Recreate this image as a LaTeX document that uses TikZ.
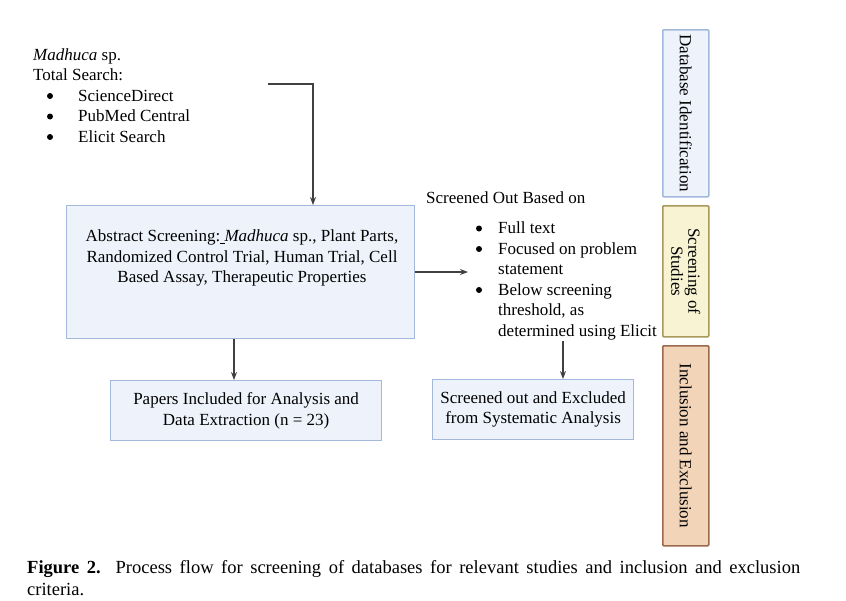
\documentclass[tikz,border=0pt]{standalone}
\usepackage{fontspec}
\setmainfont{Liberation Serif}
\usetikzlibrary{arrows.meta}
\definecolor{bluefill}{HTML}{EEF3FB}
\definecolor{blueedge}{HTML}{A3B9DC}
\definecolor{yelfill}{HTML}{F8F4D3}
\definecolor{yeledge}{HTML}{A8995C}
\definecolor{brnfill}{HTML}{F2D5B8}
\definecolor{brnedge}{HTML}{9B6A4D}
\tikzset{
  flowbox/.style={draw=blueedge, fill=bluefill, line width=1.2pt, inner sep=0pt, align=center, font=\fontsize{17}{20.5}\selectfont},
  sidebox/.style={draw=#1edge, fill=#1fill, line width=1.6pt, rounded corners=1pt, inner sep=0pt},
  sidetext/.style={rotate=-90, align=center, font=\fontsize{17}{17}\selectfont},
  conn/.style={draw=black!75, line width=1.2pt, -{Stealth[length=8pt,width=6pt]}},
  plain/.style={font=\fontsize{17}{20.5}\selectfont, inner sep=0pt, anchor=base west},
  bul/.style={circle, fill=black, inner sep=0pt, minimum size=6pt},
}
\begin{document}
\begin{tikzpicture}[x=1pt,y=-1pt]
\useasboundingbox (0,0) rectangle (846,600);
\fill[white] (0,0) rectangle (846,600);

% source text
\node[plain] (t1) at (33,60) {\textit{Madhuca} sp.};
\node[plain] (t2) at (33,80.5) {Total Search:};
\node[bul] (b1) at (50,96) {};
\node[plain] (l1) at (78,101) {ScienceDirect};
\node[bul] (b2) at (50,116.5) {};
\node[plain] (l2) at (78,121.5) {PubMed Central};
\node[bul] (b3) at (50,137) {};
\node[plain] (l3) at (78,142) {Elicit Search};
\coordinate (src) at (268,84);

% abstract box
\node[flowbox, minimum width=348pt, minimum height=133pt, anchor=north west] (abs) at (66,205) {};
\node[align=center, inner sep=0pt, font=\fontsize{17}{20}\selectfont, anchor=north] (abstxt) at (242,230)
  {Abstract Screening:\underline{\ }\textit{Madhuca} sp., Plant Parts,\\Randomized Control Trial, Human Trial, Cell\\Based Assay, Therapeutic Properties};

% papers box
\node[flowbox, minimum width=271pt, minimum height=60pt, anchor=north west] (pap) at (110,380)
  {Papers Included for Analysis and\\Data Extraction (n = 23)};

% screened out list
\node[plain] (so) at (426,203) {Screened Out Based on};
\node[bul] (c1) at (479,228.5) {};
\node[plain] (d1) at (498,233.5) {Full text};
\node[bul] (c2) at (479,249) {};
\node[plain] (d2) at (498,254) {Focused on problem};
\node[plain] (d2b) at (498,274.5) {statement};
\node[bul] (c3) at (479,290) {};
\node[plain] (d3) at (498,295) {Below screening};
\node[plain] (d3b) at (498,315.5) {threshold, as};
\node[plain] (d3c) at (498,336) {determined using Elicit};
\coordinate (listtop) at (563,341);
\coordinate (listleft) at (468,272);

% excluded box
\node[flowbox, minimum width=201pt, minimum height=60pt, anchor=north west] (exc) at (432,379)
  {Screened out and Excluded\\from Systematic Analysis};

% side boxes
\node[sidebox=blue, minimum width=46pt, minimum height=167pt, anchor=north west] (s1) at (662,29) {};
\node[sidetext] (s1t) at (s1.center) {Database Identification};
\node[sidebox=yel, minimum width=46pt, minimum height=131pt, anchor=north west] (s2) at (662,205) {};
\node[sidetext] (s2t) at (s2.center) {Screening of\\Studies};
\node[sidebox=brn, minimum width=46pt, minimum height=200pt, anchor=north west] (s3) at (662,345) {};
\node[sidetext] (s3t) at (s3.center) {Inclusion and Exclusion};

% connectors
\draw[conn] (src) -| (abs.north -| 313,0);
\draw[conn] (abs.east |- 0,272) -- (listleft);
\draw[conn] (abs.south -| 234,0) -- (pap.north -| 234,0);
\draw[conn] (listtop) -- (exc.north -| 563,0);

% caption
\node[inner sep=0pt, anchor=base west, font=\fontsize{18.5}{22}\selectfont] (cap1) at (27,573)
  {\makebox[773pt][s]{\textbf{Figure 2.} Process flow for screening of databases for relevant studies and inclusion and exclusion}};
\node[inner sep=0pt, anchor=base west, font=\fontsize{18.5}{22}\selectfont] (cap2) at (27,595)
  {criteria.};
\end{tikzpicture}
\end{document}
